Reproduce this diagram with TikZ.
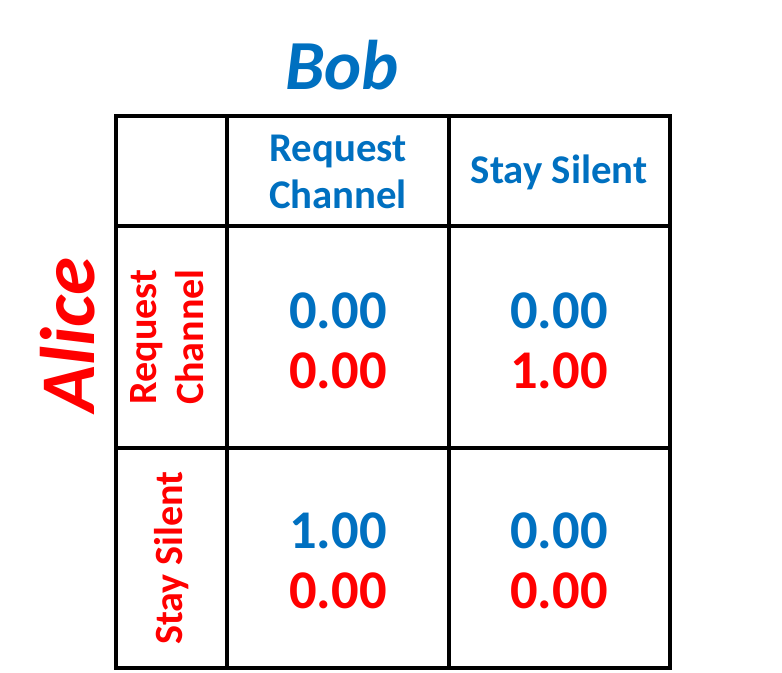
\documentclass[tikz,border=0pt]{standalone}
\usepackage{fontspec}
\setmainfont{Carlito}
\definecolor{cblue}{RGB}{0,112,192}
\definecolor{cred}{RGB}{255,0,0}
\begin{document}
\begin{tikzpicture}[x=0.01cm,y=-0.01cm,
  grid/.style={line width=1.2pt},
  hdr/.style={font=\bfseries\fontsize{11.6}{13.5}\selectfont,text=cblue,align=center},
  vhdr/.style={font=\bfseries\fontsize{11.4}{13.5}\selectfont,text=cred,align=center,rotate=90},
  num/.style={font=\bfseries\fontsize{15.5}{15.5}\selectfont}]
\useasboundingbox (0,0) rectangle (782,673);
\draw[grid] (116,116) rectangle (670,668);
\draw[grid] (227,116) -- (227,668);
\draw[grid] (449,116) -- (449,668);
\draw[grid] (116,226) -- (670,226);
\draw[grid] (116,448) -- (670,448);
\node[font=\bfseries\itshape\fontsize{20}{20}\selectfont,text=cblue] (bob) at (342,65) {Bob};
\node[font=\bfseries\itshape\fontsize{22}{22}\selectfont,text=cred,rotate=90] (alice) at (68,335) {Alice};
\node[hdr] (c1) at (338,172) {Request\\Channel};
\node[hdr] (c2) at (559,172) {Stay Silent};
\node[vhdr] (r1) at (167,337) {Request\\Channel};
\node[vhdr] (r2) at (172,558) {Stay Silent};
\node[num,text=cblue] (a1) at (338,311) {0.00};
\node[num,text=cred] (a2) at (338,371) {0.00};
\node[num,text=cblue] (b1) at (559,311) {0.00};
\node[num,text=cred] (b2) at (559,371) {1.00};
\node[num,text=cblue] (c1n) at (338,531) {1.00};
\node[num,text=cred] (c2n) at (338,591) {0.00};
\node[num,text=cblue] (d1) at (559,531) {0.00};
\node[num,text=cred] (d2) at (559,591) {0.00};
\end{tikzpicture}
\end{document}
